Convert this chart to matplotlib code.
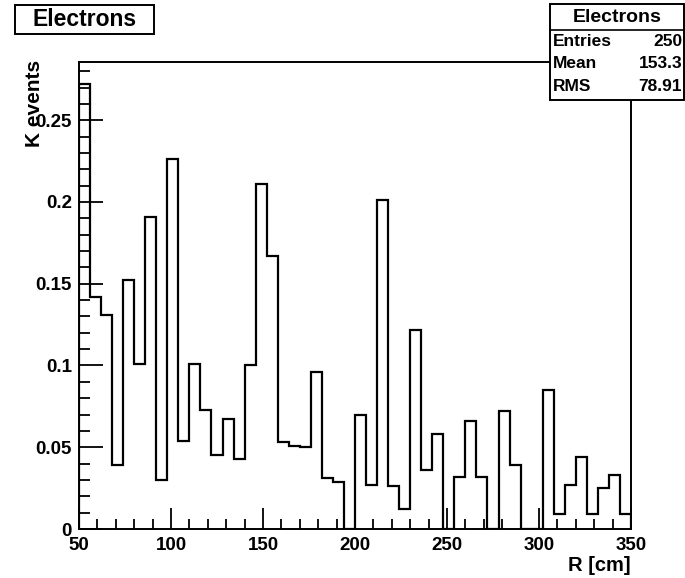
import numpy as np
import matplotlib
matplotlib.use("Agg")
import matplotlib.pyplot as plt
from matplotlib.patches import Rectangle
from matplotlib.lines import Line2D
from matplotlib.ticker import MultipleLocator, FuncFormatter

# ---- data ----
bin_lo, bin_hi, bin_w = 50, 350, 6
k_events = [0.272, 0.142, 0.131, 0.039, 0.152, 0.101, 0.191, 0.030, 0.226, 0.054,
            0.101, 0.073, 0.045, 0.067, 0.043, 0.100, 0.211, 0.167, 0.053, 0.051,
            0.050, 0.096, 0.031, 0.029, 0.000, 0.070, 0.027, 0.201, 0.026, 0.012,
            0.122, 0.036, 0.058, 0.000, 0.032, 0.066, 0.032, 0.000, 0.072, 0.039,
            0.000, 0.000, 0.085, 0.009, 0.027, 0.044, 0.009, 0.025, 0.033, 0.009]
hist_title = "Electrons"
stats_labels = ["Entries", "Mean", "RMS"]
stats_values = ["250", "153.3", "78.91"]
x_label = "R [cm]"
y_label = "K events"

W, H = 685, 578
FONT = "Liberation Sans"
plt.rcParams['font.family'] = [FONT, 'DejaVu Sans']
plt.rcParams['font.weight'] = 'bold'

fig = plt.figure(figsize=(W / 100, H / 100), dpi=100)

def fx(x):
    return x / W

def fy(y):
    return 1 - y / H

ax_l, ax_r, ax_t, ax_b = 79, 631, 62, 529
ax = fig.add_axes([fx(ax_l), fy(ax_b), fx(ax_r - ax_l), (ax_b - ax_t) / H])

edges = np.arange(bin_lo, bin_hi + bin_w / 2, bin_w)
vals = np.array(k_events)
ax.stairs(vals, edges, color='black', lw=1.6, baseline=0)

ax.set_xlim(bin_lo, bin_hi)
ax.set_ylim(0, 1.05 * vals.max())

for s in ax.spines.values():
    s.set_linewidth(1.4)

ax.xaxis.set_major_locator(MultipleLocator(50))
ax.xaxis.set_minor_locator(MultipleLocator(10))
ax.yaxis.set_major_locator(MultipleLocator(0.05))
ax.yaxis.set_minor_locator(MultipleLocator(0.01))

def yfmt(v, pos):
    s = ("%.2f" % v).rstrip('0').rstrip('.')
    return s

ax.yaxis.set_major_formatter(FuncFormatter(yfmt))
ax.tick_params(axis='both', which='both', direction='in', top=False, right=False)
ax.tick_params(axis='x', which='major', length=15, width=1.3, pad=6, labelsize=13.5)
ax.tick_params(axis='x', which='minor', length=7, width=1.3)
ax.tick_params(axis='y', which='major', length=17, width=1.3, pad=5, labelsize=13.5)
ax.tick_params(axis='y', which='minor', length=8, width=1.3)
for lab in ax.get_xticklabels() + ax.get_yticklabels():
    lab.set_fontweight('bold')

# axis titles
fig.text(fx(631), fy(556), x_label, ha='right', va='top', fontsize=14.5, fontweight='bold')
fig.text(fx(34), fy(60), y_label, ha='center', va='top', rotation=90, fontsize=15, fontweight='bold')

# title box
fig.add_artist(Rectangle((fx(15), fy(34)), fx(154 - 15), (34 - 5) / H, transform=fig.transFigure,
                         facecolor='white', edgecolor='black', lw=1.4, zorder=5))
fig.text(fx(84.5), fy(19.5), hist_title, ha='center', va='center', fontsize=16.5,
         fontweight='bold', zorder=6)

# stats box
sb_l, sb_r, sb_t, sb_b = 550, 684, 4, 100
fig.add_artist(Rectangle((fx(sb_l), fy(sb_b)), fx(sb_r - sb_l), (sb_b - sb_t) / H,
                         transform=fig.transFigure, facecolor='white', edgecolor='black',
                         lw=1.4, zorder=5))
fig.add_artist(Line2D([fx(sb_l), fx(sb_r)], [fy(30), fy(30)], transform=fig.transFigure,
                      color='black', lw=1.2, zorder=6))
fig.text(fx((sb_l + sb_r) / 2), fy(17), hist_title, ha='center', va='center', fontsize=14,
         fontweight='bold', zorder=7)
for i, (lab, val) in enumerate(zip(stats_labels, stats_values)):
    yy = 42 + i * 22
    fig.text(fx(553), fy(yy), lab, ha='left', va='center', fontsize=12.5, fontweight='bold', zorder=7)
    fig.text(fx(682), fy(yy), val, ha='right', va='center', fontsize=12.5, fontweight='bold', zorder=7)

fig.savefig("out.png", dpi=100)
